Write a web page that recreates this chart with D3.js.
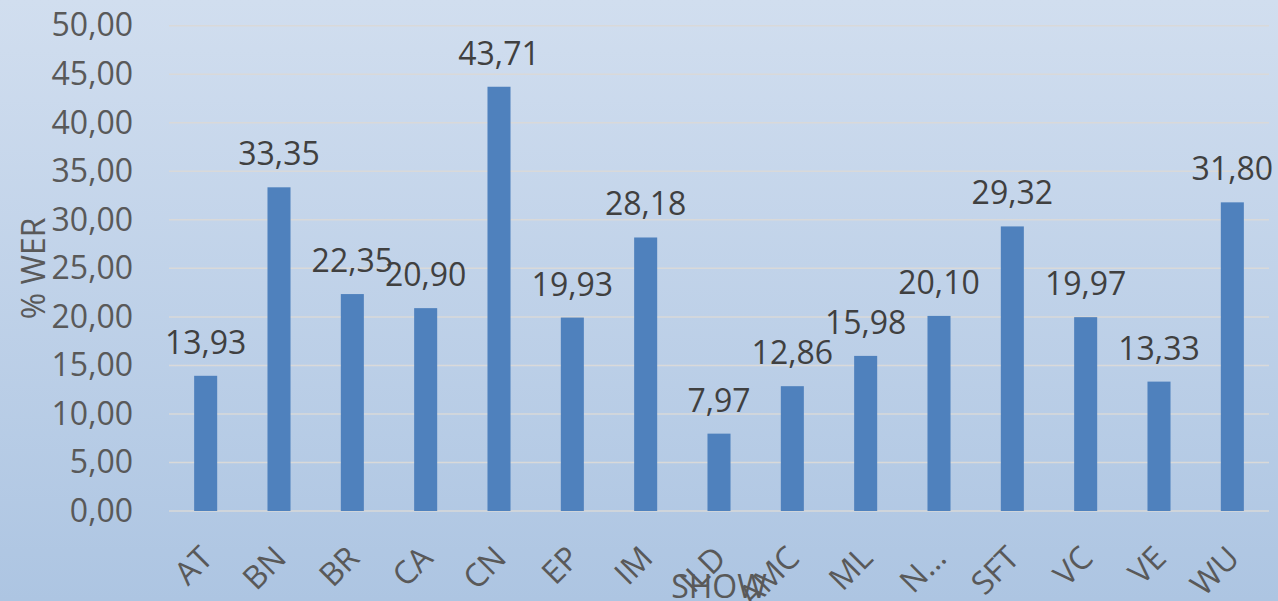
<!DOCTYPE html>
<html>
<head>
<meta charset="utf-8">
<script src="https://cdn.jsdelivr.net/npm/d3@7"></script>
<style>
  html, body { margin: 0; padding: 0; background: #fff; }
  #wrapper { width: 1278px; height: 601px; }
  text { font-family: "Open Sans", sans-serif; }
</style>
</head>
<body>
<div id="wrapper"></div>
<script>
const categories = ["AT", "BN", "BR", "CA", "CN", "EP", "IM", "ILD", "AMC", "ML", "N…", "SFT", "VC", "VE", "WU"]
const werValues = [13.93, 33.35, 22.35, 20.90, 43.71, 19.93, 28.18, 7.97, 12.86, 15.98, 20.10, 29.32, 19.97, 13.33, 31.80]
const yTicks = [0, 5, 10, 15, 20, 25, 30, 35, 40, 45, 50]
const yTitle = "% WER"
const xTitle = "SHOW"

function drawBarChart() {
    const dataset = categories.map((c, i) => ({ name: c, value: werValues[i] }))

    const xAccessor = d => d.name
    const yAccessor = d => d.value
    const fmt = v => d3.format(".2f")(v).replace(".", ",")

    let dimensions = {
        width: 1278,
        height: 601,
        margins: {
            top: 25.7,
            right: 9,
            bottom: 90,
            left: 169,
        }
    }
    dimensions.boundedWidth = dimensions.width
        - dimensions.margins.left
        - dimensions.margins.right
    dimensions.boundedHeight = dimensions.height
        - dimensions.margins.top
        - dimensions.margins.bottom

    const wrapper = d3.select("#wrapper")
        .append("svg")
            .attr("width", dimensions.width)
            .attr("height", dimensions.height)

    // background gradient
    const grad = wrapper.append("defs")
        .append("linearGradient")
            .attr("id", "bg")
            .attr("x1", 0).attr("y1", 0)
            .attr("x2", 0).attr("y2", 1)
    grad.append("stop").attr("offset", "0%").attr("stop-color", "#d1deef")
    grad.append("stop").attr("offset", "100%").attr("stop-color", "#adc5e2")

    wrapper.append("rect")
        .attr("width", dimensions.width)
        .attr("height", dimensions.height)
        .attr("fill", "url(#bg)")

    const bounds = wrapper.append("g")
        .attr("transform", `translate(${dimensions.margins.left}, ${dimensions.margins.top})`)

    const yScale = d3.scaleLinear()
        .domain([0, 50])
        .range([dimensions.boundedHeight, 0])

    const xScale = d3.scaleBand()
        .domain(dataset.map(xAccessor))
        .range([0, dimensions.boundedWidth])
        .paddingInner(0.686)
        .paddingOuter(0.343)

    // gridlines
    bounds.append("g")
        .selectAll("line")
        .data(yTicks)
        .join("line")
            .attr("x1", 0)
            .attr("x2", dimensions.boundedWidth)
            .attr("y1", d => yScale(d))
            .attr("y2", d => yScale(d))
            .attr("stroke", "#d9d9d9")
            .attr("stroke-width", 1.5)

    // bars
    bounds.append("g")
        .selectAll("rect")
        .data(dataset)
        .join("rect")
            .attr("x", d => xScale(xAccessor(d)))
            .attr("y", d => yScale(yAccessor(d)))
            .attr("width", xScale.bandwidth())
            .attr("height", d => dimensions.boundedHeight - yScale(yAccessor(d)))
            .attr("fill", "#4f81bd")

    // data labels
    bounds.append("g")
        .selectAll("text")
        .data(dataset)
        .join("text")
            .attr("x", d => xScale(xAccessor(d)) + xScale.bandwidth() / 2)
            .attr("y", d => yScale(yAccessor(d)) - 22)
            .attr("text-anchor", "middle")
            .attr("font-size", 32)
            .attr("fill", "#404040")
            .text(d => fmt(yAccessor(d)))

    // y axis
    const yAxisGenerator = d3.axisLeft(yScale)
        .tickValues(yTicks)
        .tickSize(0)
        .tickPadding(36)
        .tickFormat(fmt)
    const yAxis = bounds.append("g").call(yAxisGenerator)
    yAxis.select(".domain").remove()
    yAxis.selectAll("text")
        .attr("font-size", 32)
        .attr("font-family", "Open Sans, sans-serif")
        .attr("fill", "#595959")

    // x axis
    const xAxisGenerator = d3.axisBottom(xScale).tickSize(0)
    const xAxis = bounds.append("g")
        .attr("transform", `translate(0, ${dimensions.boundedHeight})`)
        .call(xAxisGenerator)
    xAxis.select(".domain").remove()
    xAxis.selectAll("text")
        .attr("y", null)
        .attr("dy", null)
        .attr("text-anchor", "end")
        .attr("transform", "translate(9, 49) rotate(-45)")
        .attr("font-size", 32)
        .attr("font-family", "Open Sans, sans-serif")
        .attr("fill", "#595959")

    // axis titles
    wrapper.append("text")
        .attr("transform", `translate(45, ${dimensions.margins.top + dimensions.boundedHeight / 2}) rotate(-90)`)
        .attr("text-anchor", "middle")
        .attr("font-size", 32)
        .attr("fill", "#595959")
        .text(yTitle)

    wrapper.append("text")
        .attr("x", dimensions.margins.left + dimensions.boundedWidth / 2)
        .attr("y", 598)
        .attr("text-anchor", "middle")
        .attr("font-size", 32)
        .attr("fill", "#595959")
        .text(xTitle)
}

drawBarChart()
</script>
</body>
</html>
